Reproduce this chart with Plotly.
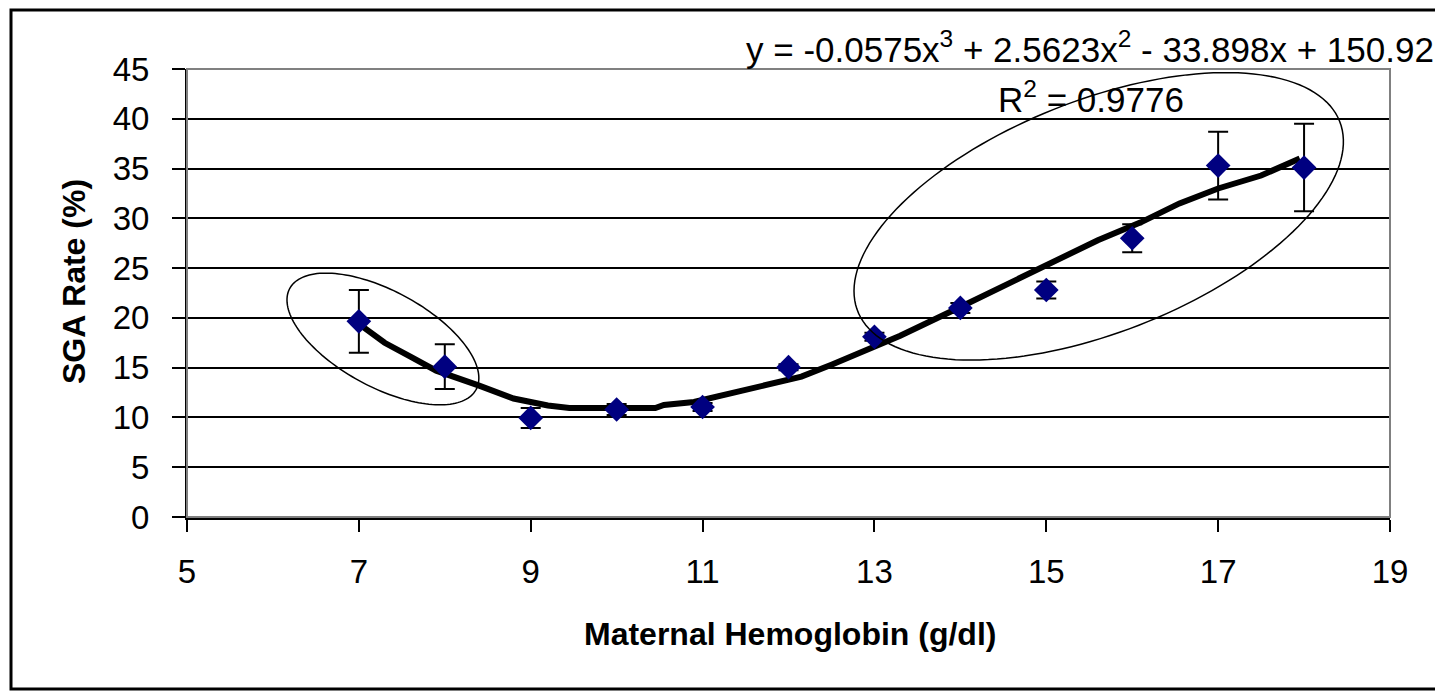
import numpy as np
import plotly.graph_objects as go


# data
hemoglobin = [7, 8, 9, 10, 11, 12, 13, 14, 15, 16, 17, 18]
sga_rate   = [19.65, 15.1, 9.95, 10.8, 11.05, 15.05, 18.1, 21.0, 22.8, 28.0, 35.3, 35.1]
sga_error  = [3.15, 2.25, 1.0, 0.55, 0.4, 0.3, 0.4, 0.5, 0.85, 1.4, 3.4, 4.4]

# trend line as drawn in the picture
trend_x = [7.0, 7.3, 7.6, 7.9, 8.4, 8.8, 9.2, 9.45, 10.45, 10.55, 10.9, 11.25,
           11.75, 12.15, 12.5, 12.9, 13.3, 14.0, 14.8, 15.6, 16.1, 16.55, 17.0, 17.5, 17.95]
trend_y = [19.4, 17.5, 16.1, 14.7, 13.2, 11.9, 11.2, 10.95, 10.95, 11.25, 11.55, 12.3,
           13.3, 14.1, 15.3, 16.8, 18.2, 21.1, 24.5, 27.8, 29.6, 31.5, 33.0, 34.3, 36.0]

x_ticks = [5, 7, 9, 11, 13, 15, 17, 19]
y_ticks = [0, 5, 10, 15, 20, 25, 30, 35, 40, 45]

equation_text = 'y = -0.0575x<sup>3</sup> + 2.5623x<sup>2</sup> - 33.898x + 150.92'
r2_text       = 'R<sup>2</sup> = 0.9776'
x_title       = 'Maternal Hemoglobin (g/dl)'
y_title       = 'SGA Rate (%)'


#------------------------------------------------------------------------------------------------
# the page body has an 8px margin, so the figure starts at (8, 8) on screen
OFF = 8
W, H = 1443 - OFF, 693 - OFF
PLOT_LEFT, PLOT_RIGHT, PLOT_TOP, PLOT_BOTTOM = 187, 1390, 69, 517    # screen pixels
L, R, T, B = PLOT_LEFT - OFF, 1443 - PLOT_RIGHT, PLOT_TOP - OFF, 693 - PLOT_BOTTOM
X_RANGE = [5, 19]
Y_RANGE = [0, 45]
PX_X = (PLOT_RIGHT - PLOT_LEFT) / (X_RANGE[1] - X_RANGE[0])
PX_Y = (PLOT_BOTTOM - PLOT_TOP) / (Y_RANGE[1] - Y_RANGE[0])
FONT = 'Liberation Sans, Arial, sans-serif'


def px_to_paper(px, py):
    return ((px - PLOT_LEFT) / (PLOT_RIGHT - PLOT_LEFT),
            (PLOT_BOTTOM - py) / (PLOT_BOTTOM - PLOT_TOP))


def ellipse_path(cx, cy, a_px, b_px, angle_deg):
    '''
    Rotated ellipse (size in pixels) around a data point
    '''
    t  = np.linspace(0, 2 * np.pi, 160)
    th = np.radians(angle_deg)
    dx = a_px * np.cos(t) * np.cos(th) - b_px * np.sin(t) * np.sin(th)
    dy = a_px * np.cos(t) * np.sin(th) + b_px * np.sin(t) * np.cos(th)
    xs = cx + dx / PX_X
    ys = cy - dy / PX_Y
    return 'M ' + ' L '.join(f'{x:.4f},{y:.4f}' for x, y in zip(xs, ys)) + ' Z'


fig = go.Figure()

fig.add_trace(go.Scatter(
    x          = trend_x,
    y          = trend_y,
    mode       = 'lines',
    line       = dict(color='black', width=6),
    showlegend = False,
))

fig.add_trace(go.Scatter(
    x          = hemoglobin,
    y          = sga_rate,
    mode       = 'markers',
    marker     = dict(symbol='diamond', size=19, color='#000080'),
    error_y    = dict(type='data', array=sga_error, color='black', thickness=2, width=10),
    showlegend = False,
))

border_x0, border_y1 = px_to_paper(11, 10)
border_x1, border_y0 = px_to_paper(1437, 689)

shapes = [
    # outer chart border
    dict(type='rect', xref='paper', yref='paper',
         x0=border_x0, x1=border_x1, y0=border_y0, y1=border_y1,
         line=dict(color='black', width=3)),
    # grey plot-area frame (top and right)
    dict(type='rect', xref='paper', yref='paper', x0=0, x1=1, y0=0, y1=1,
         line=dict(color='#808080', width=2), layer='above'),
    dict(type='path', xref='x', yref='y', path=ellipse_path(7.28, 17.88, 106, 48, 28.5),
         line=dict(color='black', width=1.5)),
    dict(type='path', xref='x', yref='y', path=ellipse_path(15.61, 30.2, 259, 116, -21.5),
         line=dict(color='black', width=1.5)),
]

eq_x, eq_y = px_to_paper(1436, 47)
r2_x, r2_y = px_to_paper(1091, 97)
xt_x, xt_y = px_to_paper(790, 634)
yt_x, yt_y = px_to_paper(74, 282)

annotations = [
    dict(text=equation_text, x=eq_x, y=eq_y, xref='paper', yref='paper', xanchor='right',
         yanchor='middle', showarrow=False, font=dict(size=35, color='black')),
    dict(text=r2_text, x=r2_x, y=r2_y, xref='paper', yref='paper', xanchor='center',
         yanchor='middle', showarrow=False, font=dict(size=35, color='black')),
    dict(text=f'<b>{x_title}</b>', x=xt_x, y=xt_y, xref='paper', yref='paper',
         xanchor='center', yanchor='middle', showarrow=False, font=dict(size=32, color='black')),
    dict(text=f'<b>{y_title}</b>', x=yt_x, y=yt_y, xref='paper', yref='paper', textangle=-90,
         xanchor='center', yanchor='middle', showarrow=False, font=dict(size=32, color='black')),
]

fig.update_layout(
    width         = W,
    height        = H,
    margin        = dict(l=L, r=R, t=T, b=B, pad=0),
    paper_bgcolor = 'white',
    plot_bgcolor  = 'white',
    font          = dict(family=FONT, size=33, color='black'),
    shapes        = shapes,
    annotations   = annotations,
    xaxis = dict(
        range       = X_RANGE,
        tickvals    = x_ticks,
        showgrid    = False,
        zeroline    = False,
        showline    = True,
        linecolor   = 'black',
        linewidth   = 3,
        ticks       = 'outside',
        ticklen     = 12,
        tickwidth   = 2,
        tickcolor   = 'black',
        ticklabelstandoff = 11,
    ),
    yaxis = dict(
        range       = Y_RANGE,
        tickvals    = y_ticks,
        showgrid    = True,
        gridcolor   = 'black',
        gridwidth   = 2,
        zeroline    = False,
        showline    = True,
        linecolor   = 'black',
        linewidth   = 2,
        ticks       = 'outside',
        ticklen     = 13,
        tickwidth   = 2,
        tickcolor   = 'black',
        ticklabelstandoff = 16,
    ),
)

fig.write_html('out.html')
